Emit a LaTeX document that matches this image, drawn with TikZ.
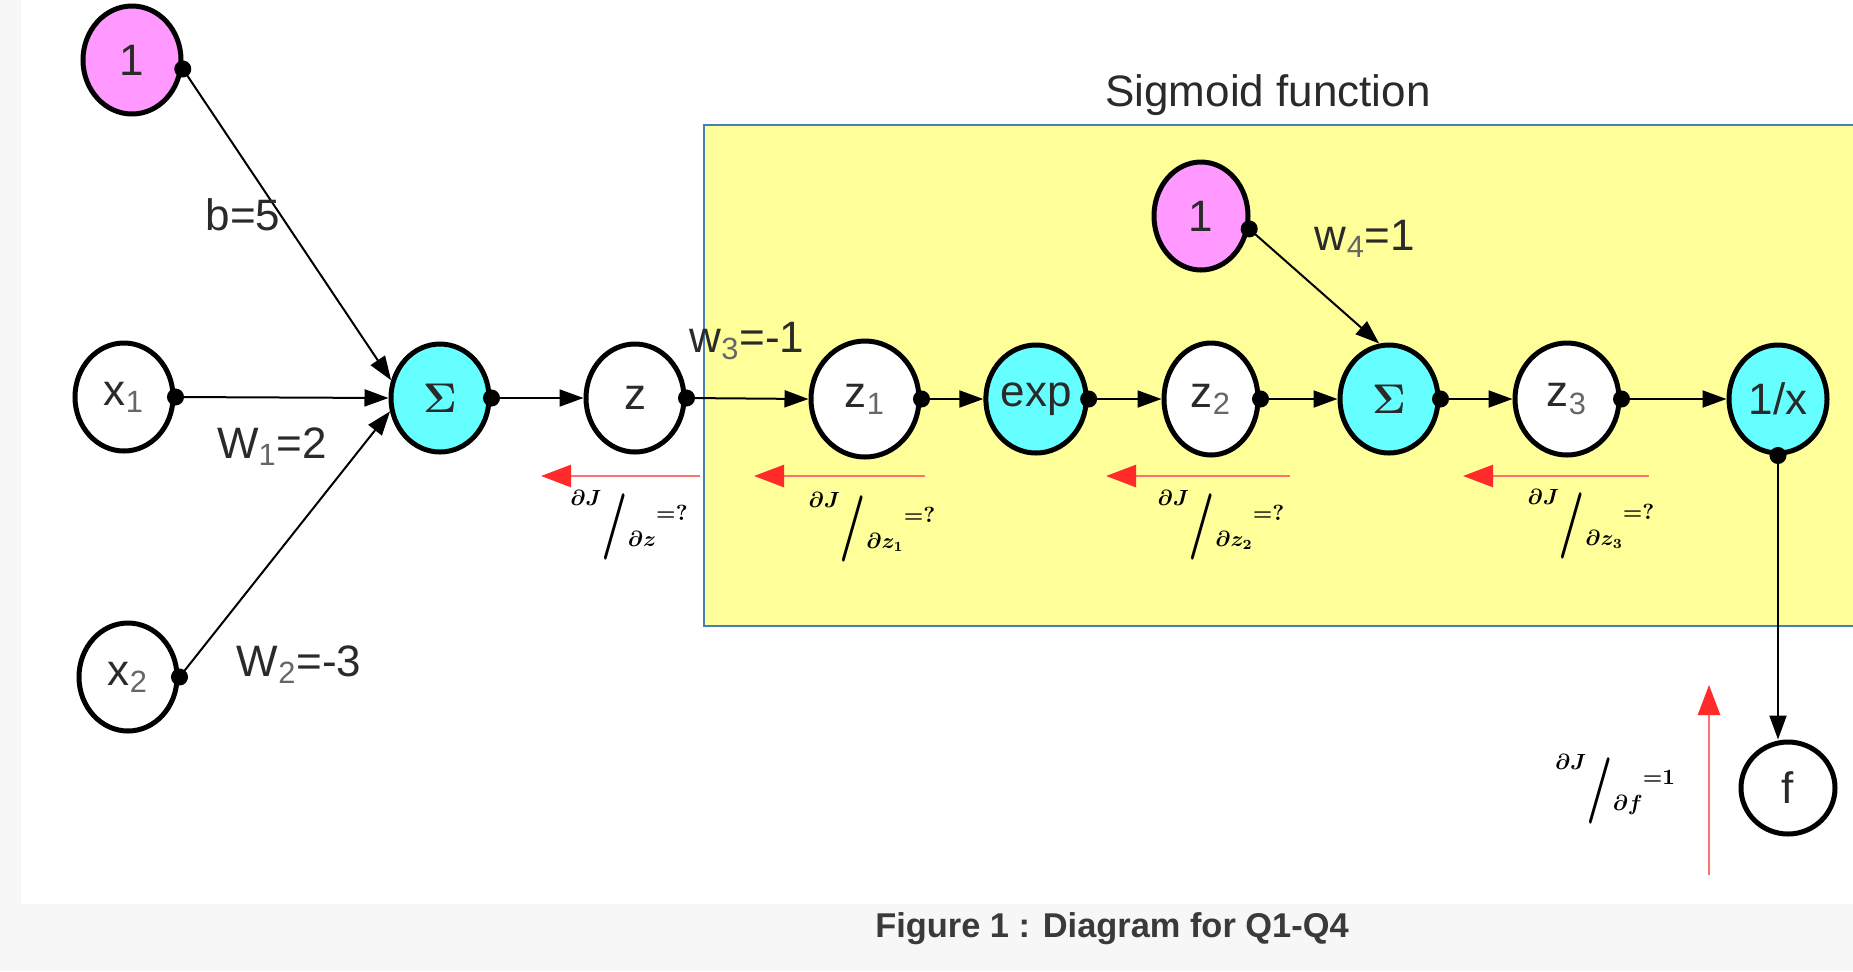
\documentclass[tikz,border=0pt]{standalone}
\usepackage[no-math]{fontspec}
\usepackage{graphicx}
\setmainfont{Liberation Sans}
\usetikzlibrary{arrows.meta,shapes.geometric}
\definecolor{pinkn}{HTML}{FF99FF}
\definecolor{cyann}{HTML}{66FFFF}
\definecolor{boxyel}{HTML}{FFFF99}
\definecolor{boxblue}{HTML}{4A7EBB}
\definecolor{gradred}{HTML}{FF2A2A}
\definecolor{gradline}{HTML}{FF7070}
\definecolor{txt}{HTML}{2A2A2A}
\definecolor{subg}{HTML}{666666}
\definecolor{bggray}{HTML}{F7F7F7}
\definecolor{capc}{HTML}{3A3A3A}
\newcommand{\mysub}[1]{\textsubscript{\color{subg}#1}}
\newcommand{\sig}{{\fontsize{21}{21}\selectfont$\mathbf{\Sigma}$}}
\newcommand{\gradlbl}[2]{{\boldmath\fontsize{15}{15}\selectfont
 \raisebox{0.5em}{$\scriptstyle\partial J$}%
 \raisebox{-0.75em}{\scalebox{1.6}[2.3]{$/$}}%
 \raisebox{-0.85em}{$\scriptstyle\partial #1$}%
 \raisebox{0.0em}{$\scriptstyle{=}#2$}}}
\begin{document}
\begin{tikzpicture}[x=0.5pt,y=-0.5pt,
  nd/.style={ellipse,draw=black,fill=white,line width=2.5pt,minimum width=49pt,minimum height=54pt,
    inner sep=0pt,font=\fontsize{22}{22}\selectfont,text=txt},
  conn/.style={draw=black,line width=1pt,{Circle[length=8.5pt]}-{Triangle[length=12pt,width=8.5pt]},shorten <=-4.25pt},
  gradarr/.style={draw=gradline,line width=1.3pt,-{Triangle[length=15pt,width=11pt,color=gradred]}},
  lbl/.style={font=\fontsize{22}{22}\selectfont,text=txt,inner sep=0pt},
  glbl/.style={inner sep=0pt,text=black}]
\useasboundingbox (0,0) rectangle (1853,971);
\clip (0,0) rectangle (1853,971);
\fill[white] (0,0) rectangle (1853,971);
\fill[bggray] (0,0) rectangle (21,971);
\fill[bggray] (0,904) rectangle (1853,971);
% sigmoid box
\draw[fill=boxyel,draw=boxblue,line width=0.8pt] (704,125) rectangle (1900,626);
\node[lbl] (sigt) at (1268,95) {Sigmoid function};
% nodes
\node[nd,fill=pinkn] (one) at (132,60) {1};
\node[nd] (x1) at (124,397) {x\mysub{1}};
\node[nd] (x2) at (128,677) {x\mysub{2}};
\node[nd,fill=cyann] (s1) at (440,398) {\sig};
\node[nd] (z) at (635,398) {z};
\node[nd,minimum width=54pt,minimum height=58pt] (z1) at (865,399) {z\mysub{1}};
\node[nd,fill=cyann] (ex) at (1036,399) {exp};
\node[nd,minimum width=47pt,minimum height=56pt] (z2) at (1211,399) {z\mysub{2}};
\node[nd,fill=cyann] (s2) at (1389,399) {\sig};
\node[nd,minimum width=52pt,minimum height=56pt] (z3) at (1567,399) {z\mysub{3}};
\node[nd,fill=cyann] (inv) at (1778,399) {1/x};
\node[nd,minimum width=47pt,minimum height=46pt] (f) at (1788,788) {f};
\node[nd,fill=pinkn,minimum width=47pt] (one2) at (1201,216) {1};
% connectors
\draw[conn] (one.-10) -- (s1.160);
\draw[conn] (x1.east) -- (s1.west);
\draw[conn] (x2.east) -- (s1.195);
\draw[conn] (s1.east) -- (z.west);
\draw[conn] (z.east) -- (z1.west);
\draw[conn] (z1.east) -- (ex.west);
\draw[conn] (ex.east) -- (z2.west);
\draw[conn] (z2.east) -- (s2.west);
\draw[conn] (s2.east) -- (z3.west);
\draw[conn] (z3.east) -- (inv.west);
\draw[conn] (inv.south) -- (inv.south |- f.north);
\draw[conn] (one2.-15) -- (s2.100);
% weight labels
\node[lbl] (lb) at (243,215) {b=5};
\node[lbl] (lw1) at (272,447) {W\mysub{1}=2};
\node[lbl] (lw2) at (299,665) {W\mysub{2}=-3};
\node[lbl] (lw3) at (747,341) {w\mysub{3}=-1};
\node[lbl] (lw4) at (1365,239) {w\mysub{4}=1};
% gradient arrows
\coordinate (g0s) at (700,476); \coordinate (g0e) at (541,476);
\coordinate (g1s) at (925,476); \coordinate (g1e) at (754,476);
\coordinate (g2s) at (1290,476); \coordinate (g2e) at (1106,476);
\coordinate (g3s) at (1649,476); \coordinate (g3e) at (1463,476);
\coordinate (gfs) at (1709,875); \coordinate (gfe) at (1709,685);
\draw[gradarr] (g0s) -- (g0e);
\draw[gradarr] (g1s) -- (g1e);
\draw[gradarr] (g2s) -- (g2e);
\draw[gradarr] (g3s) -- (g3e);
\draw[gradarr] (gfs) -- (gfe);
% gradient labels
\node[glbl] (d0) at (629,525) {\gradlbl{z}{?}};
\node[glbl] (d1) at (872,527) {\gradlbl{z_1}{?}};
\node[glbl] (d2) at (1221,525) {\gradlbl{z_2}{?}};
\node[glbl] (d3) at (1591,524) {\gradlbl{z_3}{?}};
\node[glbl] (df) at (1615,789) {\gradlbl{f}{1}};
% caption
\node[font=\fontsize{17.2}{17.2}\selectfont\bfseries,text=capc,inner sep=0pt] (cap) at (1112,929) {Figure 1 : Diagram for Q1-Q4};
\end{tikzpicture}
\end{document}
